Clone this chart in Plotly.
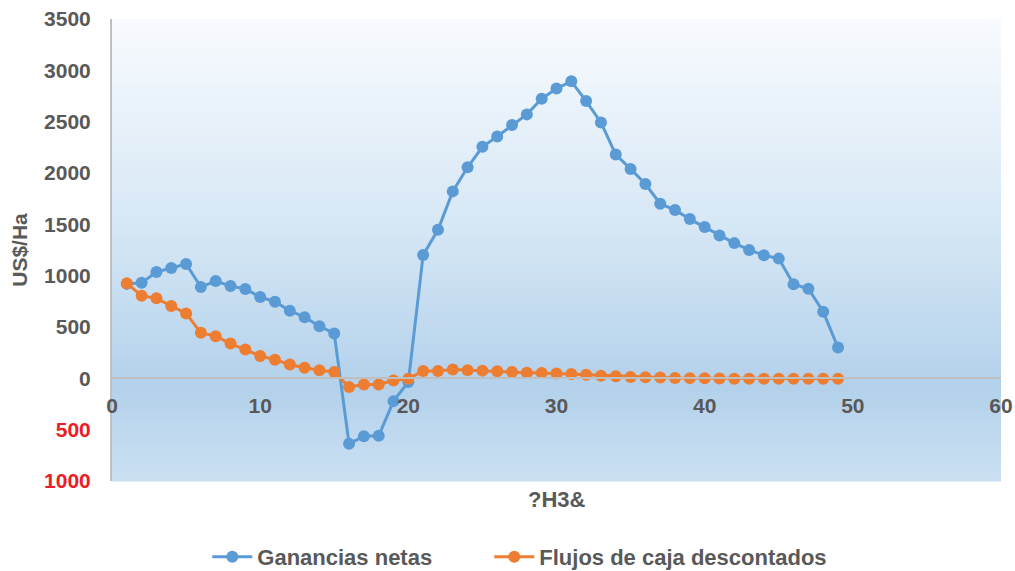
import plotly.graph_objects as go

# Periodo (años)
periodos = list(range(1, 50))

# Ganancias netas por periodo (US$/Ha)
ganancias_netas = [
    920, 930, 1036, 1075, 1114, 890, 948, 900, 870, 792,
    746, 658, 596, 508, 437, -638, -564, -560, -222, -36,
    1202, 1447, 1821, 2056, 2255, 2356, 2467, 2571, 2724, 2822,
    2893, 2701, 2493, 2180, 2040, 1893, 1701, 1639, 1551, 1473,
    1391, 1317, 1251, 1199, 1166, 916, 873, 648, 300,
]

# Flujos de caja descontados por periodo (US$/Ha)
flujos_descontados = [
    925, 805, 779, 704, 632, 443, 411, 339, 280, 218,
    182, 134, 104, 78, 62, -85, -59, -59, -20, -5,
    72, 72, 85, 78, 75, 68, 62, 55, 52, 46,
    42, 36, 26, 20, 13, 10, 7, 3, 2, 0,
    -2, -3, -4, -5, -5, -5, -4, -4, -3,
]

# Etiquetas del eje vertical (los negativos se muestran en rojo, sin signo)
y_tick_vals = [-1000, -500, 0, 500, 1000, 1500, 2000, 2500, 3000, 3500]
y_tick_text = ["1000", "500", "0", "500", "1000", "1500", "2000", "2500", "3000", "3500"]

x_tick_vals = [0, 10, 20, 30, 40, 50, 60]

AZUL = "#5b9bd5"
NARANJA = "#ed7d31"
GRIS_TEXTO = "#595959"
ROJO = "#ee1c25"
FUENTE = "Liberation Sans"

Y_MIN, Y_MAX = -1000, 3500


def hex_rgb(h):
    h = h.lstrip("#")
    return tuple(int(h[i:i + 2], 16) for i in (0, 2, 4))


def mezcla(stops, t):
    for (t0, c0), (t1, c1) in zip(stops, stops[1:]):
        if t0 <= t <= t1:
            f = (t - t0) / (t1 - t0) if t1 > t0 else 0
            a, b = hex_rgb(c0), hex_rgb(c1)
            return "rgb(%d,%d,%d)" % tuple(round(a[i] + (b[i] - a[i]) * f) for i in range(3))
    return stops[-1][1]


# Degradado del área de trazado (de arriba hacia abajo)
degradado = [(0.0, "#f8fbfe"), (0.45, "#d6e7f5"), (0.80, "#b3d1eb"), (1.0, "#cbe0f2")]
n_bandas = 120
bandas = []
for i in range(n_bandas):
    t = (i + 0.5) / n_bandas
    y1 = 1 - i / n_bandas
    y0 = 1 - (i + 1) / n_bandas
    bandas.append(dict(
        type="rect", xref="x domain", yref="y domain",
        x0=0, x1=1, y0=y0 - 0.001, y1=y1 + 0.001,
        fillcolor=mezcla(degradado, t), line=dict(width=0), layer="below",
    ))

ticktext_color = [
    f"<span style='color:{ROJO}'>{t}</span>" if v < 0 else t
    for v, t in zip(y_tick_vals, y_tick_text)
]

fig = go.Figure()
fig.add_trace(go.Scatter(
    x=periodos, y=ganancias_netas, name="Ganancias netas",
    mode="lines+markers",
    line=dict(color=AZUL, width=3),
    marker=dict(color=AZUL, size=12),
    legend="legend", showlegend=True,
))
fig.add_trace(go.Scatter(
    x=periodos, y=flujos_descontados, name="Flujos de caja descontados",
    mode="lines+markers",
    line=dict(color=NARANJA, width=3),
    marker=dict(color=NARANJA, size=12),
    legend="legend2", showlegend=True,
))

# posición del eje horizontal sobre el valor cero
pos_cero = (0 - Y_MIN) / (Y_MAX - Y_MIN)

estilo_leyenda = dict(
    orientation="h", xanchor="left", y=-0.1645, yanchor="middle",
    font=dict(family=FUENTE, size=22, color=GRIS_TEXTO, weight="bold"),
    itemwidth=40, bgcolor="rgba(0,0,0,0)",
)

fig.update_layout(
    width=1015, height=571,
    margin=dict(l=112, r=14, t=19, b=90, autoexpand=False),
    paper_bgcolor="white",
    plot_bgcolor="rgba(0,0,0,0)",
    showlegend=True,
    shapes=bandas,
    font=dict(family=FUENTE, size=21, color=GRIS_TEXTO),
    xaxis=dict(
        range=[0, 60], tickvals=x_tick_vals,
        anchor="free", position=pos_cero,
        showgrid=False, zeroline=False,
        showline=True, linecolor="#bfbfbf", linewidth=2,
        ticks="outside", ticklen=8, tickcolor="rgba(0,0,0,0)",
        tickfont=dict(family=FUENTE, size=21, color=GRIS_TEXTO, weight="bold"),
    ),
    yaxis=dict(
        range=[Y_MIN, Y_MAX], tickvals=y_tick_vals, ticktext=ticktext_color,
        showgrid=False, zeroline=False,
        showline=True, linecolor="#bfbfbf", linewidth=2,
        ticks="outside", ticklen=15, tickcolor="rgba(0,0,0,0)",
        tickfont=dict(family=FUENTE, size=21, color=GRIS_TEXTO, weight="bold"),
        title=dict(text="US$/Ha", standoff=11,
                   font=dict(family=FUENTE, size=21, color=GRIS_TEXTO, weight="bold")),
    ),
    legend=dict(x=0.1072, **estilo_leyenda),
    legend2=dict(x=0.4244, **estilo_leyenda),
    annotations=[dict(
        text="?H3&", xref="paper", yref="paper", x=0.5, y=0.0,
        xanchor="center", yanchor="middle", yshift=-18, showarrow=False,
        font=dict(family=FUENTE, size=22, color=GRIS_TEXTO, weight="bold"),
    )],
)

fig.write_html("out.html")
